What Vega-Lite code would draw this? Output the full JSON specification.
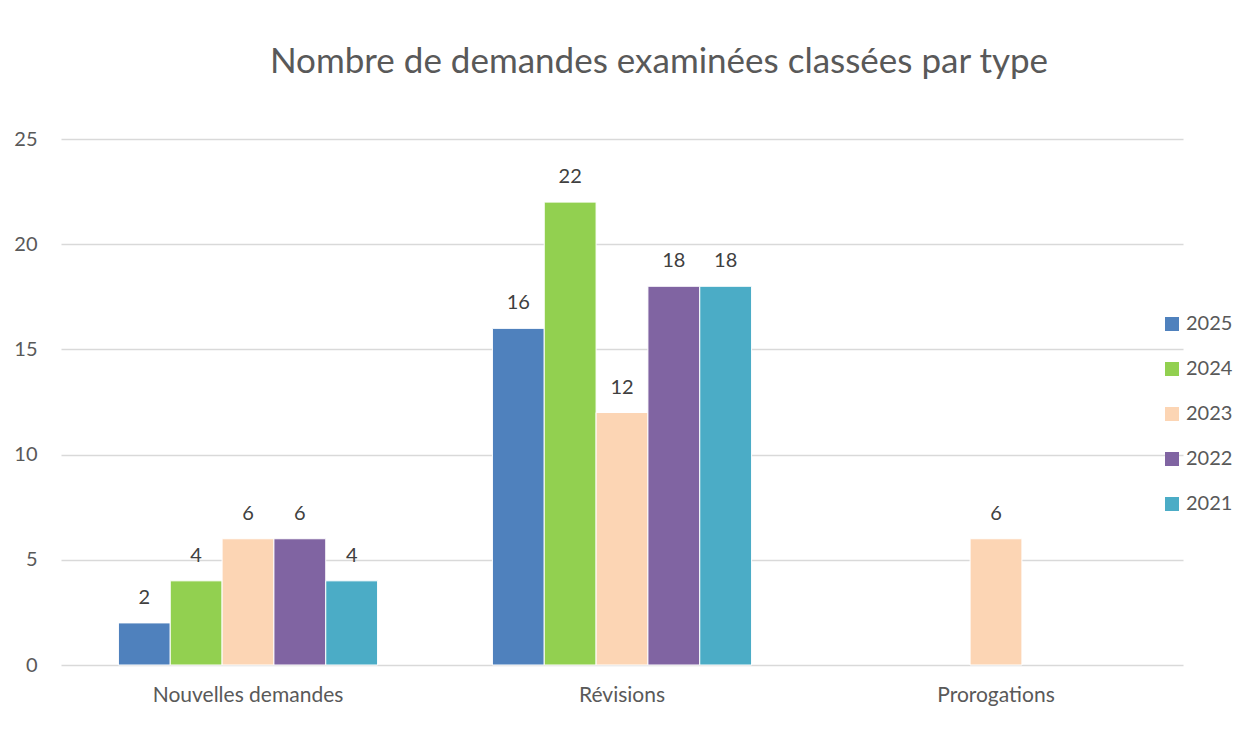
{
  "$schema": "https://vega.github.io/schema/vega-lite/v6.json",
  "autosize": {"type": "none"},
  "width": 1122,
  "height": 526,
  "padding": {"left": 61, "top": 139, "right": 66, "bottom": 70},
  "background": "white",
  "title": {
    "text": "Nombre de demandes examinées classées par type",
    "font": "Lato",
    "fontSize": 35,
    "fontWeight": "normal",
    "color": "#595959",
    "anchor": "middle",
    "dx": 37,
    "offset": 49
  },
  "data": {
    "values": [
      {"type": "Nouvelles demandes", "year": "2025", "value": 2},
      {"type": "Nouvelles demandes", "year": "2024", "value": 4},
      {"type": "Nouvelles demandes", "year": "2023", "value": 6},
      {"type": "Nouvelles demandes", "year": "2022", "value": 6},
      {"type": "Nouvelles demandes", "year": "2021", "value": 4},
      {"type": "Révisions", "year": "2025", "value": 16},
      {"type": "Révisions", "year": "2024", "value": 22},
      {"type": "Révisions", "year": "2023", "value": 12},
      {"type": "Révisions", "year": "2022", "value": 18},
      {"type": "Révisions", "year": "2021", "value": 18},
      {"type": "Prorogations", "year": "2023", "value": 6}
    ]
  },
  "encoding": {
    "x": {
      "field": "type",
      "type": "nominal",
      "sort": ["Nouvelles demandes", "Révisions", "Prorogations"],
      "scale": {"paddingInner": 0.307, "paddingOuter": 0.1535},
      "axis": {
        "title": null,
        "labelAngle": 0,
        "labelFont": "Lato",
        "labelFontSize": 21,
        "labelColor": "#595959",
        "labelPadding": 19,
        "labelLimit": 0,
        "ticks": false,
        "domain": false,
        "grid": false
      }
    },
    "xOffset": {
      "field": "year",
      "type": "nominal",
      "scale": {"domain": ["2025", "2024", "2023", "2022", "2021"], "paddingInner": 0, "paddingOuter": 0}
    },
    "y": {
      "field": "value",
      "type": "quantitative",
      "scale": {"domain": [0, 25], "nice": false},
      "axis": {
        "title": null,
        "values": [0, 5, 10, 15, 20, 25],
        "labelFont": "Lato",
        "labelFontSize": 20,
        "labelColor": "#595959",
        "labelPadding": 24,
        "ticks": false,
        "domain": false,
        "gridColor": "#d9d9d9",
        "gridWidth": 1.5
      }
    }
  },
  "layer": [
    {
      "mark": {"type": "bar", "stroke": "white", "strokeWidth": 1},
      "encoding": {
        "color": {
          "field": "year",
          "type": "nominal",
          "scale": {
            "domain": ["2025", "2024", "2023", "2022", "2021"],
            "range": ["#4f81bd", "#92d050", "#fcd5b4", "#8064a2", "#4bacc6"]
          },
          "legend": {
            "title": null,
            "orient": "none",
            "legendX": 1101,
            "legendY": 175,
            "symbolType": "square",
            "symbolSize": 196,
            "symbolStrokeWidth": 0,
            "labelFont": "Lato",
            "labelFontSize": 20,
            "labelColor": "#595959",
            "labelOffset": 4,
            "rowPadding": 25
          }
        }
      }
    },
    {
      "mark": {"type": "text", "baseline": "bottom", "dy": -15, "font": "Lato", "fontSize": 20, "color": "#404040"},
      "encoding": {
        "text": {"field": "value", "type": "quantitative"}
      }
    }
  ],
  "config": {"view": {"stroke": null}}
}
